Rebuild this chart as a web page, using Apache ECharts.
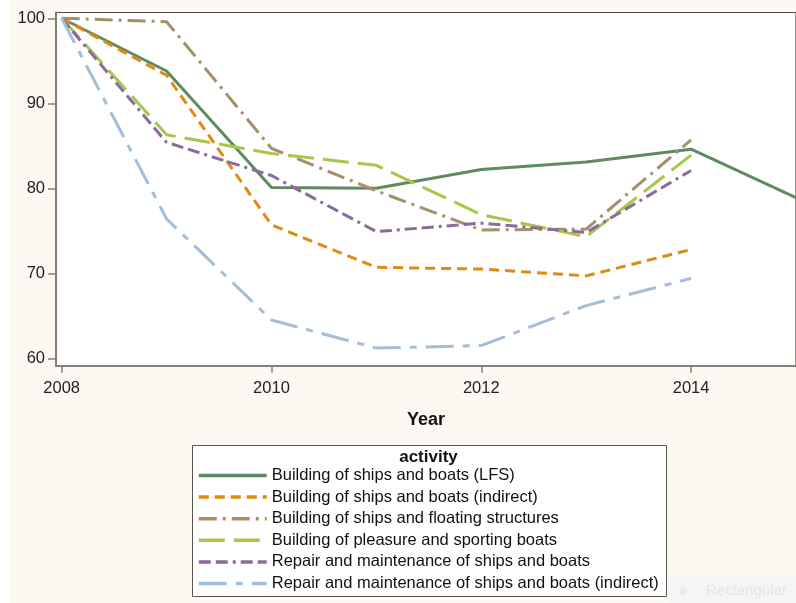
<!DOCTYPE html>
<html>
<head>
<meta charset="utf-8">
<script src="https://cdn.jsdelivr.net/npm/echarts@6/dist/echarts.min.js"></script>
<style>
html,body{margin:0;padding:0;background:#fcf9f2;}
#c{width:796px;height:603px;}
</style>
</head>
<body>
<div id="c"></div>
<script>
var years = [2008, 2009, 2010, 2011, 2012, 2013, 2014, 2015];
var seriesNames = [
  'Building of ships and boats (LFS)',
  'Building of ships and boats (indirect)',
  'Building of ships and floating structures',
  'Building of pleasure and sporting boats',
  'Repair and maintenance of ships and boats',
  'Repair and maintenance of ships and boats (indirect)'
];
var lfs = [100, 93.8, 80.1, 80.0, 82.2, 83.1, 84.6, 78.9];
var shipsIndirect = [100, 93.3, 75.7, 70.7, 70.5, 69.7, 72.8];
var floating = [100, 99.6, 84.7, 79.7, 75.1, 75.2, 85.7];
var pleasure = [100, 86.3, 84.1, 82.7, 76.9, 74.3, 83.9];
var repair = [100, 85.4, 81.5, 74.9, 75.9, 74.8, 82.1];
var repairIndirect = [100, 76.4, 64.5, 61.2, 61.5, 66.2, 69.4];
var xTicks = [2008, 2010, 2012, 2014];
var yTicks = [60, 70, 80, 90, 100];
var legendTitle = 'activity';
var xName = 'Year';

var allValues = [lfs, shipsIndirect, floating, pleasure, repair, repairIndirect];
var colors = ['#5e8c5e', '#df8a10', '#a78f6a', '#a9c64b', '#8c6a9c', '#a3bedb'];
var dashes = ['solid', [10, 6], [18, 6, 3, 6], [26, 9], [12, 5, 12, 5, 3, 5], [28, 9, 7, 9]];

function pairs(vals) {
  var out = [];
  for (var i = 0; i < vals.length; i++) out.push([years[i], vals[i]]);
  return out;
}

var series = [];
for (var s = 0; s < seriesNames.length; s++) {
  series.push({
    name: seriesNames[s],
    type: 'line',
    data: pairs(allValues[s]),
    symbol: 'none',
    showSymbol: false,
    smooth: false,
    silent: true,
    color: colors[s],
    lineStyle: { color: colors[s], width: 3, type: dashes[s] },
    z: 3
  });
}

var legendData = [];
for (var k = 0; k < seriesNames.length; k++) {
  legendData.push({
    name: seriesNames[k],
    itemStyle: { opacity: 0, borderWidth: 0 },
    lineStyle: { color: colors[k], width: 3.5, type: dashes[k] }
  });
}

var chart = echarts.init(document.getElementById('c'), null, { renderer: 'canvas' });
var font = 'Liberation Sans, Arial, sans-serif';
chart.setOption({
  backgroundColor: '#fcf9f2',
  animation: false,
  textStyle: { fontFamily: font },
  grid: {
    left: 56, right: 0, top: 12.5, bottom: 237.3,
    show: true, backgroundColor: '#ffffff', borderColor: '#4f4c44', borderWidth: 1.2,
    containLabel: false, outerBoundsMode: 'none'
  },
  xAxis: {
    type: 'value',
    min: 2007.946, max: 2015,
    name: xName,
    nameLocation: 'middle',
    nameGap: 45,
    nameTextStyle: { fontSize: 18, fontWeight: 'bold', color: '#111', fontFamily: font },
    axisLine: { show: true, lineStyle: { color: '#858075', width: 2 } },
    axisTick: { show: true, length: 7, lineStyle: { color: '#858075', width: 1.5 }, customValues: xTicks },
    axisLabel: { customValues: xTicks, margin: 14, fontSize: 16.5, color: '#222', fontFamily: font,
      formatter: function (v) { return String(v); } },
    splitLine: { show: false }
  },
  yAxis: {
    type: 'value',
    min: 59.13, max: 100.68,
    axisLine: { show: true, lineStyle: { color: '#858075', width: 2 } },
    axisTick: { show: true, length: 8, lineStyle: { color: '#858075', width: 1.5 }, customValues: yTicks },
    axisLabel: { customValues: yTicks, margin: 11, fontSize: 16.5, color: '#222', fontFamily: font,
      formatter: function (v) { return String(v); } },
    splitLine: { show: false }
  },
  legend: {
    orient: 'vertical',
    left: 197,
    top: 467,
    padding: 0,
    itemWidth: 68,
    itemHeight: 17,
    itemGap: 4.6,
    selectedMode: false,
    itemStyle: { opacity: 0, borderWidth: 0 },
    lineStyle: { width: 3.5 },
    textStyle: { fontSize: 16.5, color: '#111', fontFamily: font, lineHeight: 17 },
    data: legendData,
    z: 10
  },
  graphic: [
    { type: 'rect', shape: { x: 0, y: 0, width: 10, height: 603 },
      style: { fill: '#ffffff' }, z: 1 },
    { type: 'rect', shape: { x: 192.5, y: 445.5, width: 474, height: 151 },
      style: { fill: '#ffffff', stroke: '#5a5750', lineWidth: 1 }, z: 1 },
    { type: 'text', x: 428.5, y: 457, z: 2,
      style: { text: legendTitle, font: 'bold 17px ' + font, fill: '#111', align: 'center', verticalAlign: 'middle' } },
    { type: 'rect', shape: { x: 668, y: 577, width: 128, height: 26 },
      style: { fill: '#f3f6f4' }, z: 1 },
    { type: 'circle', shape: { cx: 683, cy: 591, r: 4 }, style: { fill: '#e9ebe4' }, z: 2 },
    { type: 'text', x: 706, y: 591, z: 2,
      style: { text: 'Rectangular', font: '15px ' + font, fill: '#e6e4dc', verticalAlign: 'middle' } }
  ],
  series: series
});
</script>
</body>
</html>
